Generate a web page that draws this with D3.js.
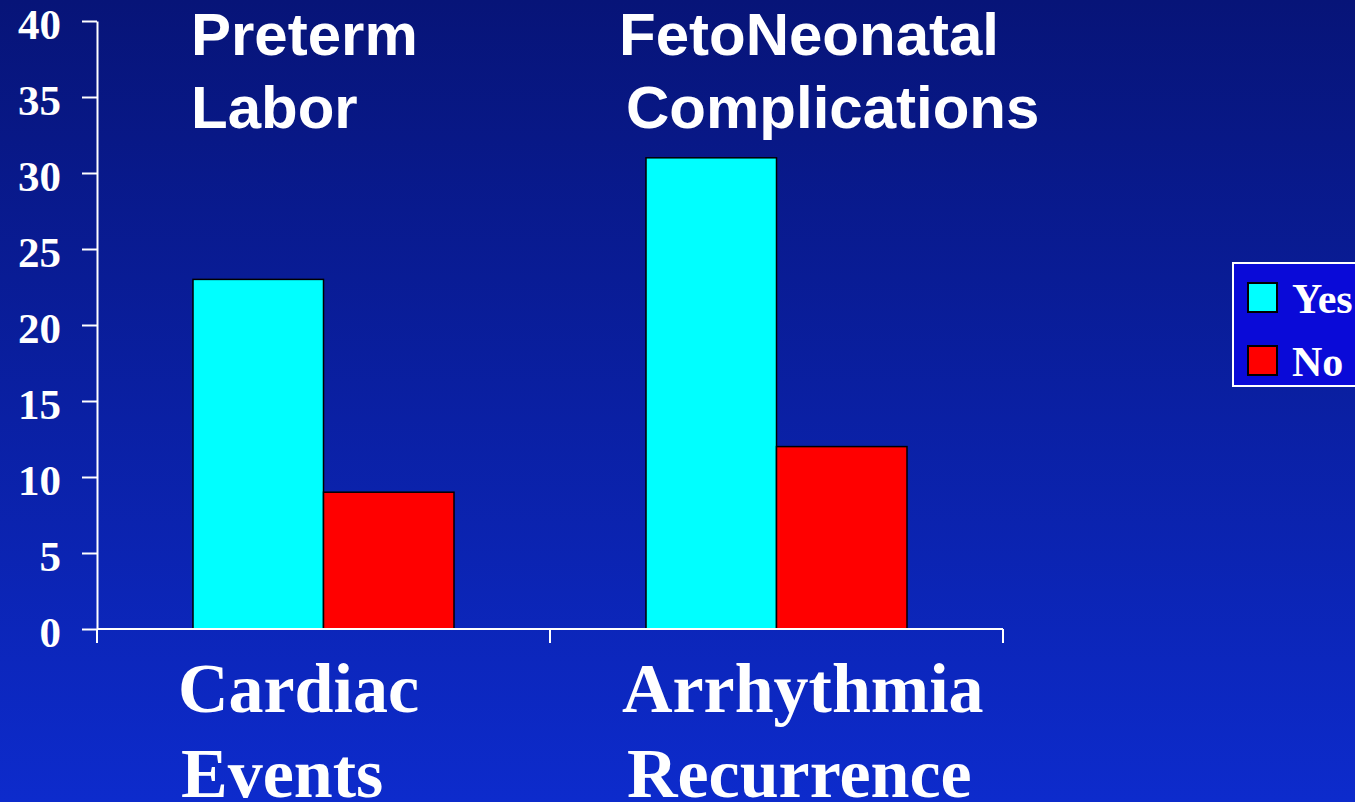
<!DOCTYPE html>
<html>
<head>
<meta charset="utf-8">
<script src="https://cdn.jsdelivr.net/npm/d3@7"></script>
<style>
  html, body { margin: 0; padding: 0; overflow: hidden; background: #0a1a90; }
  .serif { font-family: "Times New Roman", "Liberation Serif", serif; font-weight: bold; }
  .sans { font-family: Arial, "Liberation Sans", sans-serif; font-weight: bold; }
</style>
</head>
<body>
<div class="chart"></div>
<script>
// data
const categories = ['Cardiac Events', 'Arrhythmia Recurrence'];
const topLabels = ['Preterm Labor', 'FetoNeonatal Complications'];
const seriesNames = ['Yes', 'No'];
const yesValues = [23, 31];
const noValues = [9, 12];
const yTicks = [0, 5, 10, 15, 20, 25, 30, 35, 40];

const colors = {Yes: '#00ffff', No: '#ff0000'};

const W = 1355, H = 802;
const margin = ({top: 21, left: 97});
const plotW = 906, plotH = 608;

const svg = d3.select('.chart')
  .append('svg')
  .attr('width', W)
  .attr('height', H);

// background gradient
const grad = svg.append('defs').append('linearGradient')
  .attr('id', 'bg').attr('x1', 0).attr('y1', 0).attr('x2', 0).attr('y2', 1);
grad.append('stop').attr('offset', '0%').attr('stop-color', '#071478');
grad.append('stop').attr('offset', '100%').attr('stop-color', '#0d2bcc');
svg.append('rect').attr('width', W).attr('height', H).attr('fill', 'url(#bg)');

const g = svg.append('g')
  .attr('transform', `translate(${margin.left},${margin.top})`);

const x0 = d3.scaleBand().domain(categories).range([0, plotW]);
const x1 = d3.scaleBand().domain(seriesNames).range([96, 357]);
const y = d3.scaleLinear().domain([0, 40]).range([plotH, 0]);

const data = categories.map((c, i) => ({cat: c, Yes: yesValues[i], No: noValues[i]}));

// bars
g.selectAll('.grp')
  .data(data)
  .enter()
  .append('g')
  .attr('transform', d => `translate(${x0(d.cat)},0)`)
  .selectAll('rect')
  .data(d => seriesNames.map(s => ({s: s, v: d[s]})))
  .enter()
  .append('rect')
  .attr('x', d => x1(d.s))
  .attr('y', d => y(d.v))
  .attr('width', x1.bandwidth())
  .attr('height', d => plotH - y(d.v))
  .attr('fill', d => colors[d.s])
  .attr('stroke', '#000')
  .attr('stroke-width', 1.5);

// y axis
const yAxis = d3.axisLeft(y)
  .tickValues(yTicks)
  .tickSize(15)
  .tickSizeOuter(0)
  .tickPadding(21);

const ya = g.append('g').call(yAxis);
ya.select('.domain').attr('stroke', '#fff').attr('stroke-width', 2);
ya.selectAll('.tick line').attr('stroke', '#fff').attr('stroke-width', 2);
ya.selectAll('.tick text')
  .attr('class', 'serif')
  .attr('fill', '#fff')
  .attr('font-size', 43)
  .attr('dy', '0.4em');

// x axis
const xa = g.append('g').attr('transform', `translate(0,${plotH})`);
xa.append('line')
  .attr('x1', 0).attr('x2', plotW)
  .attr('stroke', '#fff').attr('stroke-width', 2);
xa.selectAll('.xt')
  .data(categories.map(c => x0(c)).concat([x0.range()[1]]))
  .enter()
  .append('line')
  .attr('x1', d => d).attr('x2', d => d)
  .attr('y1', 0).attr('y2', 14)
  .attr('stroke', '#fff').attr('stroke-width', 2);

// category labels under the axis
const xLabelDx = [[81, 84], [72, 77]];
categories.forEach((c, i) => {
  const t = g.append('text')
    .attr('class', 'serif')
    .attr('fill', '#fff')
    .attr('font-size', 70)
    .attr('y', plotH + 83);
  c.split(' ').forEach((w, j) => {
    t.append('tspan')
      .attr('x', x0(c) + xLabelDx[i][j])
      .attr('dy', j === 0 ? 0 : 85)
      .text(w);
  });
});

// labels above the groups
const topDx = [[94, 94], [522, 529]];
topLabels.forEach((c, i) => {
  const t = g.append('text')
    .attr('class', 'sans')
    .attr('fill', '#fff')
    .attr('font-size', 60)
    .attr('y', 34);
  c.split(' ').forEach((w, j) => {
    t.append('tspan')
      .attr('x', topDx[i][j])
      .attr('dy', j === 0 ? 0 : 73)
      .text(w);
  });
});

// legend
const legend = svg.append('g').attr('transform', 'translate(1233,263)');
legend.append('rect')
  .attr('width', 140).attr('height', 123)
  .attr('fill', '#0a0ad8')
  .attr('stroke', '#fff').attr('stroke-width', 2);

const item = legend.selectAll('.item')
  .data(seriesNames)
  .enter()
  .append('g')
  .attr('transform', (d, i) => `translate(15,${20 + i * 63})`);
item.append('rect')
  .attr('width', 29).attr('height', 29)
  .attr('fill', d => colors[d])
  .attr('stroke', '#000').attr('stroke-width', 2);
item.append('text')
  .attr('class', 'serif')
  .attr('x', 44).attr('y', 30)
  .attr('fill', '#fff')
  .attr('font-size', 42)
  .text(d => d);
</script>
</body>
</html>
